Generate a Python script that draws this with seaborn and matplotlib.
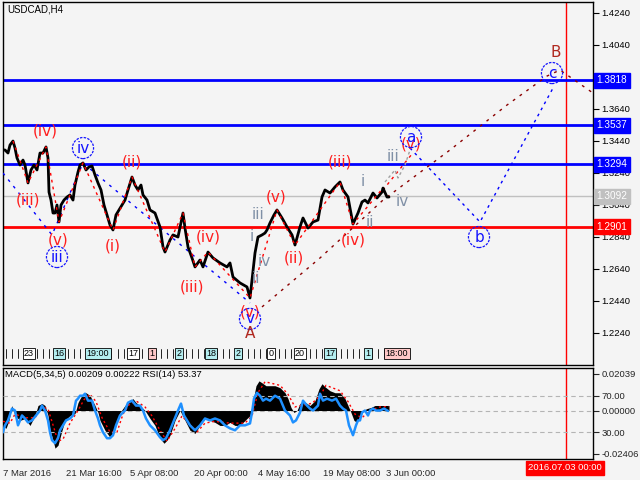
import numpy as np
import pandas as pd
import matplotlib
matplotlib.use("Agg")
import matplotlib.pyplot as plt
import seaborn as sns
from matplotlib.transforms import blended_transform_factory as btf

sns.set_theme(style="white")
plt.rcParams["font.family"] = ["DejaVu Sans"]
SMALL = ["Liberation Sans", "DejaVu Sans"]

# ---------------- data ----------------
bar_x = [3, 5, 8, 10, 13, 15, 17, 20, 23, 25, 28, 31, 34, 37, 40, 43, 46, 48, 49, 51,
         53, 55, 57, 59, 61, 64, 67, 70, 73, 75, 78, 80, 83, 86, 89, 92, 95, 98, 101, 104,
         107, 110, 113, 116, 119, 122, 125, 128, 132, 135, 138, 141, 143, 147, 150, 155, 160, 163, 165, 170,
         173, 178, 183, 185, 188, 192, 195, 200, 203, 208, 213, 220, 227, 230, 233, 240, 247, 250, 252, 255,
         258, 262, 265, 267, 270, 274, 277, 282, 287, 292, 295, 300, 303, 308, 313, 318, 322, 325, 330, 335,
         340, 343, 348, 350, 353, 358, 362, 365, 368, 373, 377, 382, 383, 387, 389]
price = [1.3382, 1.3382, 1.3363, 1.3413, 1.3438, 1.3394, 1.3332, 1.3288, 1.3319, 1.3288,
         1.3176, 1.3257, 1.3288, 1.3257, 1.3363, 1.3363, 1.3401, 1.3332, 1.3119, 1.3069,
         1.2988, 1.2988, 1.3038, 1.2932, 1.3038, 1.3069, 1.3088, 1.3101, 1.3069, 1.3163,
         1.3244, 1.3288, 1.3301, 1.3257, 1.3276, 1.3282, 1.3226, 1.3176, 1.3132, 1.3038,
         1.2976, 1.2913, 1.2882, 1.2976, 1.3007, 1.3038, 1.3069, 1.3132, 1.3213, 1.3163,
         1.3132, 1.3163, 1.3101, 1.3069, 1.3007, 1.2988, 1.2901, 1.2776, 1.2744, 1.2819,
         1.2851, 1.2838, 1.2988, 1.2894, 1.2776, 1.2707, 1.2651, 1.2694, 1.2651, 1.2744,
         1.2707, 1.2676, 1.2651, 1.2676, 1.2588, 1.2551, 1.2526, 1.2457, 1.2569, 1.2738,
         1.2838, 1.2851, 1.2863, 1.2882, 1.2926, 1.2976, 1.3007, 1.2957, 1.2901, 1.2851,
         1.2788, 1.2901, 1.2957, 1.2894, 1.2932, 1.2944, 1.3088, 1.3132, 1.3113, 1.3151,
         1.3182, 1.3132, 1.3088, 1.3019, 1.2919, 1.2988, 1.3057, 1.3069, 1.3051, 1.3113,
         1.3082, 1.3119, 1.3144, 1.3088, 1.3088]
swing_idx = [4, 10, 16, 23, 32, 42, 48, 58, 62, 66, 69, 77, 86, 90, 100, 104, 112]

level_blue = [1.3818, 1.3537, 1.3294]
level_last = 1.3092
level_red = 1.2901
price_ticks = [1.4240, 1.4040, 1.3840, 1.3640, 1.3440, 1.3240, 1.3040, 1.2840, 1.2640, 1.2440, 1.2240]
price_tick_labels = ["1.4240", "1.4040", "", "1.3640", "1.3440", "1.3240", "1.3040",
                     "1.2840", "1.2640", "1.2440", "1.2240"]

blue_wave_x = [3, 52, 83, 250]
blue_wave_p = [1.3238, 1.2851, 1.3301, 1.2426]
blue_proj_x = [410, 480, 553]
blue_proj_p = [1.3394, 1.2932, 1.3769]
brown_x = [262, 320, 383, 450, 507, 547, 560, 593]
brown_p = [1.2401, 1.2707, 1.3069, 1.3382, 1.3663, 1.3844, 1.3882, 1.3738]
red_ext_x = [383, 412]
red_ext_p = [1.3132, 1.3357]
gray_x = [385, 395, 398, 405, 410]
gray_p = [1.3182, 1.3257, 1.3207, 1.3288, 1.3382]

wave_text = ["(iv)", "(iii)", "(v)", "iii", "iv", "(ii)", "(i)", "(iv)", "(iii)", "(v)", "v", "A",
             "i", "iii", "iv", "ii", "(v)", "(ii)", "(iii)", "(iv)", "i", "ii", "iii", "iv",
             "(v)", "a", "b", "c", "B"]
wave_x = [45, 28, 58, 57, 83, 132, 113, 208, 192, 250, 250, 250,
          252, 258, 264, 256, 276, 294, 340, 353, 363, 370, 393, 402,
          411, 411, 479, 552, 556]
wave_p = [1.3501, 1.3069, 1.2819, 1.2713, 1.3394, 1.3307, 1.2782, 1.2838, 1.2526, 1.2369, 1.2326, 1.2238,
          1.2844, 1.2976, 1.2682, 1.2576, 1.3088, 1.2707, 1.3307, 1.2819, 1.3182, 1.2926, 1.3344, 1.3057,
          1.3419, 1.3463, 1.2838, 1.3863, 1.3994]
wave_kind = ["r", "r", "r", "c", "c", "r", "r", "r", "r", "r", "c", "B",
             "g", "g", "g", "g", "r", "r", "r", "r", "g", "g", "g", "g",
             "r", "c", "c", "c", "B"]

strip_text = ["23", "16", "19:00", "17", "1", "2", "18", "2", "0", "20", "17", "1", "18:00"]
strip_x = [29, 59, 98, 133, 152, 179, 211, 238, 271, 300, 330, 368, 397]
strip_col = ["w", "c", "c", "w", "p", "c", "c", "c", "w", "w", "c", "c", "p"]

date_ticks = [3, 66, 130, 194, 258, 323, 386]
date_labels = ["7 Mar 2016", "21 Mar 16:00", "5 Apr 08:00", "20 Apr 00:00",
               "4 May 16:00", "19 May 08:00", "3 Jun 00:00"]
future_x = 566

macd_x = [3, 6, 9, 12, 15, 20, 25, 30, 35, 38, 42, 45, 48, 50, 53, 55, 58, 62, 65, 70,
          75, 78, 80, 83, 86, 90, 95, 98, 100, 105, 110, 113, 116, 120, 125, 130, 133, 136, 140, 145,
          150, 155, 160, 164, 167, 170, 175, 180, 185, 190, 195, 200, 205, 210, 215, 220, 225, 230, 235, 240,
          245, 250, 253, 256, 259, 262, 266, 270, 275, 280, 285, 288, 291, 294, 297, 300, 303, 307, 310, 315,
          319, 322, 325, 330, 335, 340, 345, 348, 351, 354, 357, 360, 363, 367, 371, 375, 380, 385, 389]
macd = [-0.0083, -0.0099, -0.0055, 0.0028, -0.0028, -0.0055, -0.0044, -0.0083, -0.0028, 0.0028,
        0.0039, 0.0028, -0.0028, -0.0110, -0.0165, -0.0209, -0.0193, -0.0110, -0.0055, -0.0028,
        -0.0017, 0.0044, 0.0066, 0.0094, 0.0099, 0.0083, 0.0028, -0.0011, -0.0055, -0.0110,
        -0.0149, -0.0138, -0.0083, -0.0011, 0.0028, 0.0055, 0.0066, 0.0044, 0.0028, 0.0000,
        -0.0044, -0.0083, -0.0154, -0.0182, -0.0165, -0.0138, -0.0055, 0.0000, -0.0055, -0.0110,
        -0.0127, -0.0083, -0.0044, -0.0055, -0.0066, -0.0083, -0.0083, -0.0066, -0.0083, -0.0083,
        -0.0055, -0.0028, 0.0055, 0.0138, 0.0165, 0.0154, 0.0138, 0.0138, 0.0138, 0.0127,
        0.0099, 0.0066, 0.0017, -0.0011, 0.0000, 0.0039, 0.0055, 0.0039, 0.0028, 0.0055,
        0.0121, 0.0149, 0.0132, 0.0110, 0.0099, 0.0099, 0.0066, 0.0028, -0.0011, -0.0055,
        -0.0066, -0.0028, 0.0000, 0.0011, 0.0017, 0.0028, 0.0028, 0.0028, 0.0028]

signal_x = [3, 10, 15, 25, 35, 42, 48, 53, 58, 63, 70, 78, 84, 90, 96, 102, 110, 117, 123, 130,
            137, 145, 152, 160, 167, 175, 182, 190, 197, 205, 215, 230, 245, 252, 258, 265, 280, 288, 295, 302,
            312, 320, 326, 340, 348, 355, 362, 370, 380, 389]
signal = [-0.006, -0.007, -0.002, -0.004, -0.004, 0.002, 0.001, -0.008, -0.017, -0.016,
          -0.007, 0.000, 0.006, 0.009, 0.005, -0.004, -0.012, -0.012, -0.002, 0.004,
          0.005, 0.002, -0.003, -0.011, -0.017, -0.010, -0.003, -0.008, -0.012, -0.007,
          -0.006, -0.007, -0.007, -0.003, 0.010, 0.016, 0.014, 0.009, 0.002, 0.003,
          0.004, 0.008, 0.014, 0.011, 0.005, -0.002, -0.004, 0.000, 0.002, 0.0022]

rsi_x = [3, 5, 8, 12, 15, 18, 22, 25, 28, 32, 36, 40, 42, 45, 48, 50, 52, 55, 58, 60,
         63, 66, 70, 73, 76, 78, 80, 83, 85, 88, 92, 95, 98, 100, 103, 107, 110, 113, 116, 120,
         125, 128, 132, 136, 140, 143, 146, 150, 155, 160, 163, 166, 170, 174, 178, 181, 184, 187, 190, 195,
         200, 205, 210, 215, 220, 225, 230, 235, 240, 245, 250, 252, 254, 257, 260, 263, 266, 270, 275, 280,
         285, 290, 293, 296, 300, 303, 307, 310, 313, 318, 320, 323, 327, 332, 336, 340, 343, 346, 349, 351,
         353, 356, 358, 360, 362, 365, 368, 370, 373, 376, 380, 384, 388]
rsi = [30.0, 37.6, 43.0, 55.9, 53.8, 37.6, 48.4, 45.1, 40.8, 43.0, 48.4, 53.8, 59.2, 53.8, 43.0,
       30.0, 21.4, 18.1, 23.5, 32.2, 37.6, 43.0, 45.1, 48.4, 64.6, 66.8, 70.0, 70.0, 72.2, 64.6,
       64.6, 53.8, 45.1, 37.6, 30.0, 23.5, 23.5, 26.8, 37.6, 48.4, 53.8, 62.4, 64.6, 59.2, 59.2,
       53.8, 45.1, 37.6, 32.2, 24.6, 21.4, 23.5, 32.2, 43.0, 53.8, 61.4, 48.4, 43.0, 37.6, 32.2,
       37.6, 45.1, 43.0, 45.1, 43.0, 37.6, 34.3, 32.2, 37.6, 37.6, 39.7, 51.6, 66.8, 73.2, 70.0,
       64.6, 66.8, 64.6, 70.0, 66.8, 53.8, 48.4, 40.8, 43.0, 51.6, 64.6, 59.2, 55.9, 53.8, 59.2,
       72.2, 64.6, 66.8, 64.6, 66.8, 59.2, 55.9, 53.8, 37.6, 32.2, 26.8, 37.6, 43.0, 43.0, 51.6,
       53.8, 48.4, 53.8, 55.9, 53.8, 53.8, 55.9, 53.37]

# ---------------- figure ----------------
BG = "#f4f4f4"
FS = 6.8
fig = plt.figure(figsize=(6.4, 4.8), dpi=100, facecolor=BG)
ax = fig.add_axes([3 / 640, 1 - 365 / 480, 590 / 640, 363 / 480], facecolor=BG)
ax2 = fig.add_axes([3 / 640, 1 - 459 / 480, 590 / 640, 91 / 480], facecolor=BG)

XL = (3, 593)
ax.set_xlim(*XL)
ax.set_ylim(1.2038, 1.4307)

# horizontal levels
for lv in level_blue:
    ax.axhline(lv, color="#0000ff", lw=2, zorder=2)
ax.axhline(level_last, color="#c0c0c0", lw=1, zorder=1)
ax.axhline(level_red, color="#ff0000", lw=2, zorder=2)
ax.axvline(future_x, color="#ff0000", lw=1, zorder=1)

# wave lines
sns.lineplot(x=blue_wave_x, y=blue_wave_p, ax=ax, color="#0000ff", lw=1, linestyle=(0, (2, 4)), zorder=3)
sns.lineplot(x=blue_proj_x, y=blue_proj_p, ax=ax, color="#0000ff", lw=1, linestyle=(0, (2, 3)), zorder=3)
sns.lineplot(x=brown_x, y=brown_p, ax=ax, color="#8b0000", lw=1, linestyle=(0, (2, 4)), zorder=3)
sns.lineplot(x=red_ext_x, y=red_ext_p, ax=ax, color="#ff0000", lw=1, linestyle=(0, (2, 3)), zorder=3)
sns.lineplot(x=gray_x, y=gray_p, ax=ax, color="#a0a0a0", lw=1, linestyle=(0, (2, 2)), zorder=3)

# price
sns.lineplot(x=bar_x, y=price, ax=ax, color="black", lw=2.0, zorder=5, estimator=None, sort=False)
sw_x = [bar_x[i] for i in swing_idx]
sw_p = [price[i] for i in swing_idx]
sns.lineplot(x=sw_x, y=sw_p, ax=ax, color="#ff0000", lw=1, linestyle=(0, (2, 3)), zorder=6,
             estimator=None, sort=False)

# wave labels
colmap = {"r": "#ff1e1e", "g": "#8090a6", "B": "#b0281e", "c": "#1414ff"}
for t, x, p, k in zip(wave_text, wave_x, wave_p, wave_kind):
    kw = dict(ha="center", va="center", fontsize=11, color=colmap[k], zorder=8)
    if k == "c":
        kw["bbox"] = dict(boxstyle="circle,pad=0.2", fc="none", ec="#1414ff", lw=0.9, ls=(0, (2, 1)))
    ax.text(x, p, t, **kw)

# time strip
tr_strip = btf(ax.transData, ax.transAxes)
for xx in np.arange(6, 410, 6.2):
    ax.plot([xx, xx], [0.02, 0.045], transform=tr_strip, color="black", lw=0.6, zorder=4)
scol = {"w": "white", "c": "#b4eef0", "p": "#ffc8c8"}
for t, x, c in zip(strip_text, strip_x, strip_col):
    ax.text(x, 0.032, t, transform=tr_strip, ha="center", va="center", fontsize=6.5,
            family=SMALL, color="black", zorder=7,
            bbox=dict(boxstyle="square,pad=0.15", fc=scol[c], ec="black", lw=0.6))

# axis styling main
ax.set_xticks([])
ax.yaxis.tick_right()
ax.set_yticks(price_ticks)
ax.set_yticklabels(price_tick_labels)
ax.tick_params(axis="y", direction="out", length=4, width=0.8, labelsize=FS, pad=2,
               colors="black", labelfontfamily="Liberation Sans")
for s in ax.spines.values():
    s.set_color("black")
    s.set_linewidth(1)
ax.set_xlabel("")
ax.set_ylabel("")

tr_right = btf(ax.transAxes, ax.transData)
for lv, fc in [(level_blue[0], "#0000ff"), (level_blue[1], "#0000ff"), (level_blue[2], "#0000ff"),
               (level_last, "#c0c0c0"), (level_red, "#ff0000")]:
    ax.text(1.006, lv, f"{lv:.4f}", transform=tr_right, ha="left", va="center", fontsize=7.2,
            family=SMALL, color="white", zorder=10, clip_on=False,
            bbox=dict(boxstyle="square,pad=0.25", fc=fc, ec=fc))

fig.text(7 / 640, 1 - 9 / 480, "USDCAD,H4", fontsize=7, family=SMALL,
         ha="left", va="center", color="black")

# ---------------- MACD / RSI panel ----------------
ax2.set_xlim(*XL)
ax2.set_ylim(-0.02695, 0.02365)
ax2.fill_between(macd_x, 0, macd, color="black", lw=0, zorder=2)
sns.lineplot(x=signal_x, y=signal, ax=ax2, color="#ff0000", lw=1, linestyle=(0, (1.5, 2)), zorder=3)
ax2.axhline(0, color="#b4b4b4", lw=0.8, ls=(0, (4, 3)), zorder=1)
ax2.axvline(future_x, color="#ff0000", lw=1, zorder=1)
ax2.set_xlabel("")
ax2.set_ylabel("")

ax3 = ax2.twinx()
ax3.set_ylim(0.8, 100.3)
ax3.axhline(70, color="#b4b4b4", lw=0.8, ls=(0, (4, 3)), zorder=1)
ax3.axhline(30, color="#b4b4b4", lw=0.8, ls=(0, (4, 3)), zorder=1)
sns.lineplot(x=rsi_x, y=rsi, ax=ax3, color="#1e90ff", lw=1.8, zorder=4, estimator=None, sort=False)
ax3.set_yticks([70, 30])
ax3.set_yticklabels(["70.00", "30.00"])
ax3.tick_params(axis="y", direction="out", length=4, width=0.8, labelsize=FS, pad=2,
                labelfontfamily="Liberation Sans")
ax3.set_xlim(*XL)
ax3.set_ylabel("")
for s in ax3.spines.values():
    s.set_visible(False)

ax2.yaxis.tick_right()
ax2.yaxis.set_label_position("right")
ax2.set_yticks([0.02039, 0.0, -0.02406])
ax2.set_yticklabels(["0.02039", "0.00000", "-0.02406"])
ax2.tick_params(axis="y", direction="out", length=4, width=0.8, labelsize=FS, pad=2,
                left=False, labelleft=False, right=True, labelright=True,
                labelfontfamily="Liberation Sans")
ax2.set_xticks(date_ticks)
ax2.set_xticklabels(date_labels)
ax2.tick_params(axis="x", direction="out", length=4, width=0.8, labelsize=FS, pad=3,
                labelfontfamily="Liberation Sans")
for lb in ax2.get_xticklabels():
    lb.set_ha("left")
for s in ax2.spines.values():
    s.set_color("black")
    s.set_linewidth(1)

ax2.text(5, 0.0225, "MACD(5,34,5) 0.00209 0.00222 RSI(14) 53.37", fontsize=6.8, family=SMALL,
         ha="left", va="top", color="black", zorder=6)

fig.text(565 / 640, 1 - 468 / 480, "2016.07.03 00:00", fontsize=FS, family=SMALL,
         ha="center", va="center", color="white",
         bbox=dict(boxstyle="square,pad=0.25", fc="#ff0000", ec="#ff0000"))

fig.savefig("out.png", dpi=100, facecolor=BG)
